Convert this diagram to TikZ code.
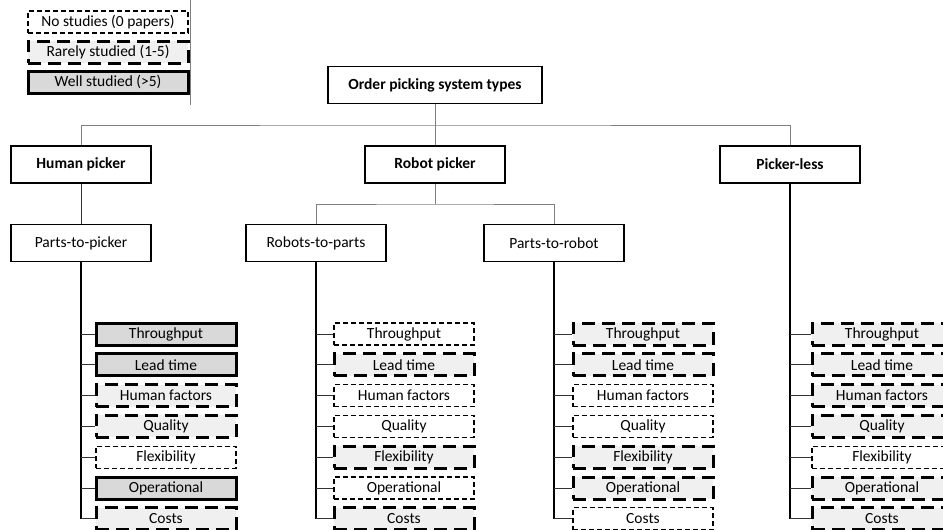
\documentclass[tikz,border=0pt]{standalone}
\usepackage{fontspec}
\setmainfont{Carlito}
\usepackage{tikz}
\usetikzlibrary{positioning}

\definecolor{wellgray}{HTML}{D9D9D9}
\definecolor{raregray}{HTML}{F0F0F0}
\definecolor{linegray}{HTML}{808080}

\tikzset{
  lvl/.style={draw, line width=1.3pt, fill=white, minimum width=140pt, minimum height=37pt, inner sep=0pt, font=\fontsize{15.5}{17}\selectfont\bfseries},
  sub/.style={lvl, font=\fontsize{15.5}{17}\selectfont},
  nost/.style={draw, line width=1.2pt, dash pattern=on 5pt off 3pt, fill=white, minimum width=140pt, minimum height=22pt, inner sep=0pt, font=\fontsize{15.5}{17}\selectfont},
  rare/.style={nost, line width=3pt, dash pattern=on 13pt off 7pt, fill=raregray},
  well/.style={nost, line width=3pt, solid, fill=wellgray},
  tree/.style={draw=linegray, line width=1pt},
  trunk/.style={draw=black, line width=1.8pt},
  branch/.style={draw=black!80, line width=0.9pt}
}

\begin{document}
\begin{tikzpicture}[x=1pt, y=-1pt]
    \useasboundingbox (0,0) rectangle (943,530);
    \clip (0,0) rectangle (943,530);

    % legend
    \node[nost, minimum width=160pt] (L1) at (108,22) {No studies (0 papers)};
    \node[rare, minimum width=160pt] (L2) at (108,52) {Rarely studied (1-5)};
    \node[well, minimum width=160pt] (L3) at (108,82) {Well studied (>5)};
    \draw[tree] (190,0) -- (190,105);

    % tree
    \node[lvl, minimum width=214pt] (T) at (435,85) {Order picking system types};
    \node[lvl] (H) at (81,164.5) {Human picker};
    \node[lvl] (R) at (435,164.5) {Robot picker};
    \node[lvl] (P) at (790,164.5) {Picker-less};
    \node[sub] (HP) at (81,243) {Parts-to-picker};
    \node[sub] (RP) at (316,243) {Robots-to-parts};
    \node[sub] (PR) at (554,243) {Parts-to-robot};

    \path[tree] (T.south) -- (435,125) coordinate (j1)
          (H.north) |- (j1) -| (P.north)
          (j1) -- (R.north);
    \path[tree] (R.south) -- (435,204) coordinate (j2)
          (RP.north) |- (j2) -| (PR.north);
    \path[branch] (H.south) -- (HP.north);

    % aspects
    \foreach \lbl/\st [count=\i] in {Throughput/well, Lead time/well, Human factors/rare,
        Quality/rare, Flexibility/nost, Operational/well, Costs/rare}
      \node[\st] (HP\i) at (166,{334+30.8*(\i-1)}) {\lbl};
    \foreach \lbl/\st [count=\i] in {Throughput/nost, Lead time/rare, Human factors/nost,
        Quality/nost, Flexibility/rare, Operational/nost, Costs/rare}
      \node[\st] (RP\i) at (404,{334+30.8*(\i-1)}) {\lbl};
    \foreach \lbl/\st [count=\i] in {Throughput/rare, Lead time/rare, Human factors/nost,
        Quality/nost, Flexibility/rare, Operational/rare, Costs/nost}
      \node[\st] (PR\i) at (643,{334+30.8*(\i-1)}) {\lbl};
    \foreach \lbl/\st [count=\i] in {Throughput/rare, Lead time/rare, Human factors/rare,
        Quality/rare, Flexibility/nost, Operational/rare, Costs/rare}
      \node[\st] (P\i) at (882,{334+30.8*(\i-1)}) {\lbl};

    \foreach \grp in {HP, RP, PR, P} {
      \path[trunk] (\grp.south) -- (\grp.south |- \grp7.west);
      \foreach \i in {1,...,7}
        \path[branch] (\grp.south |- \grp\i.west) -- (\grp\i.west);
    }
  \end{tikzpicture}
\end{document}
